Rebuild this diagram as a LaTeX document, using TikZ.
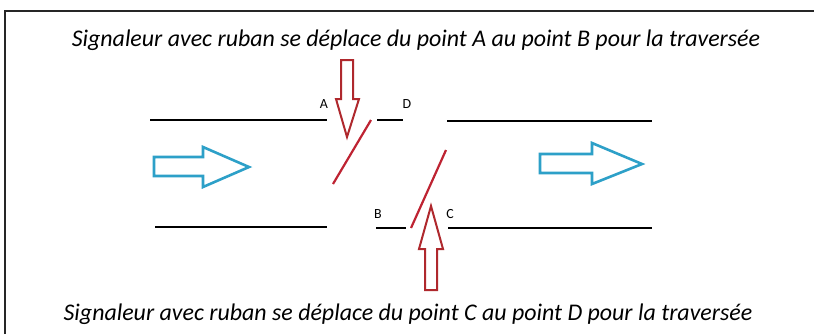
\documentclass[tikz,border=0pt]{standalone}
\usepackage{fontspec}
\setmainfont{Carlito}
\begin{document}
\begin{tikzpicture}[x=1bp,y={(0,-1bp)},
  road/.style={line width=2.4bp,black},
  gate/.style={line width=2.2bp,color=gatered},
  redarrow/.style={line width=2bp,draw=arrowred,fill=white,line join=miter},
  bluearrow/.style={line width=2.6bp,draw=arrowblue,fill=white,line join=miter},
  lbl/.style={font=\fontsize{14}{16}\selectfont,inner sep=0pt},
  caption/.style={font=\fontsize{24}{28}\selectfont\itshape,inner sep=0pt}]
\definecolor{gatered}{RGB}{190,35,50}
\definecolor{arrowred}{RGB}{175,40,45}
\definecolor{arrowblue}{RGB}{45,160,200}
\useasboundingbox (0,0) rectangle (814,334);
\fill[white] (0,0) rectangle (814,334);
% frame
\draw[line width=2bp,black!85] (5,334) -- (5,11) -- (814,11);
% captions
\node[caption] (top) at (416,40) {Signaleur avec ruban se déplace du point A au point B pour la traversée};
\node[caption] (bot) at (408,314) {Signaleur avec ruban se déplace du point C au point D pour la traversée};
% roads
\coordinate (t1a) at (150,120); \coordinate (t1b) at (327,120);
\coordinate (t2a) at (377,120); \coordinate (t2b) at (403,120);
\coordinate (t3a) at (447,121); \coordinate (t3b) at (652,121);
\coordinate (b1a) at (155,227); \coordinate (b1b) at (327,227);
\coordinate (b2a) at (376,228); \coordinate (b2b) at (406,228);
\coordinate (b3a) at (448,228); \coordinate (b3b) at (652,228);
\draw[road] (t1a) -- (t1b);
\draw[road] (t2a) -- (t2b);
\draw[road] (t3a) -- (t3b);
\draw[road] (b1a) -- (b1b);
\draw[road] (b2a) -- (b2b);
\draw[road] (b3a) -- (b3b);
% labels
\node[lbl] (A) at (324,104) {A};
\node[lbl] (D) at (407,104) {D};
\node[lbl] (B) at (378,214) {B};
\node[lbl] (C) at (450,214) {C};
% gates
\coordinate (g1a) at (333,184); \coordinate (g1b) at (371,120);
\coordinate (g2a) at (411,228); \coordinate (g2b) at (446,150);
\draw[gate] (g1a) -- (g1b);
\draw[gate] (g2a) -- (g2b);
% red arrows
\draw[redarrow] (341,60) -- (353,60) -- (353,99) -- (359,99) -- (347,137) -- (336,99) -- (341,99) -- cycle;
\draw[redarrow] (425,290) -- (437,290) -- (437,249) -- (443,249) -- (431,206) -- (419,249) -- (425,249) -- cycle;
% blue arrows
\draw[bluearrow] (154,157) -- (203,157) -- (203,147) -- (249,167) -- (203,187) -- (203,176) -- (154,176) -- cycle;
\draw[bluearrow] (540,154) -- (592,154) -- (592,143) -- (642,164) -- (592,184) -- (592,173) -- (540,173) -- cycle;
\end{tikzpicture}
\end{document}
